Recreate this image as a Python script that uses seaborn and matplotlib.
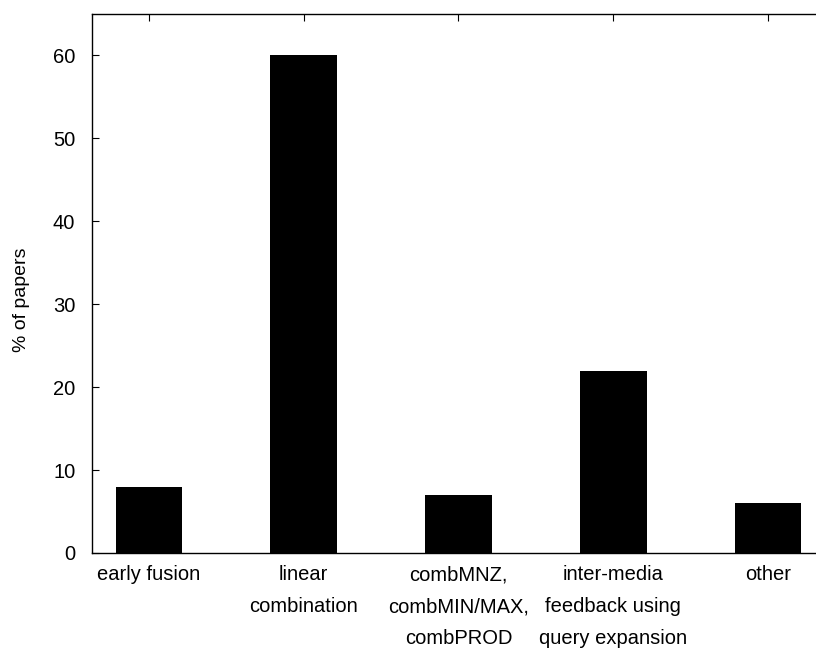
import matplotlib
matplotlib.use("Agg")
import matplotlib.pyplot as plt
import seaborn as sns
import pandas as pd

categories = ["early fusion", "linear\ncombination", "combMNZ,\ncombMIN/MAX,\ncombPROD",
              "inter-media\nfeedback using\nquery expansion", "other"]
values = [8, 60, 7, 22, 6]
yticks = [0, 10, 20, 30, 40, 50, 60]

sns.set_theme(style="white")
plt.rcParams['font.family'] = ['Liberation Sans', 'DejaVu Sans']
plt.rcParams['text.color'] = 'black'
plt.rcParams['axes.labelcolor'] = 'black'
plt.rcParams['xtick.color'] = 'black'
plt.rcParams['ytick.color'] = 'black'

df = pd.DataFrame({"method": categories, "pct": values})

fig = plt.figure(figsize=(8.16, 6.5), dpi=100)
ax = fig.add_axes([92/816, 1 - 553/650, 1 - 92/816, (553 - 14)/650])
sns.barplot(data=df, x="method", y="pct", color="black", saturation=1,
            width=0.43, ax=ax, edgecolor="black", linewidth=0)

ax.set_xlim(-0.368, 4.31)
ax.set_ylim(0, 65)
ax.set_yticks(yticks)
ax.set_xlabel("")
ax.set_ylabel("% of papers", fontsize=14, color="black")
ax.yaxis.set_label_coords(-0.086, 0.469)
for s in ax.spines.values():
    s.set_color("black")
    s.set_linewidth(1.0)
ax.spines["right"].set_visible(False)
ax.tick_params(axis="x", direction="in", length=5, width=0.8, top=True, bottom=True,
               labelsize=14.5, pad=9, color="black", labelcolor="black")
ax.tick_params(axis="y", direction="in", length=5, width=0.8, left=True, right=False,
               labelsize=14.5, pad=12, color="black", labelcolor="black")
for lbl in ax.get_xticklabels():
    lbl.set_linespacing(1.85)
    lbl.set_verticalalignment("top")

fig.savefig("out.png", dpi=100)
